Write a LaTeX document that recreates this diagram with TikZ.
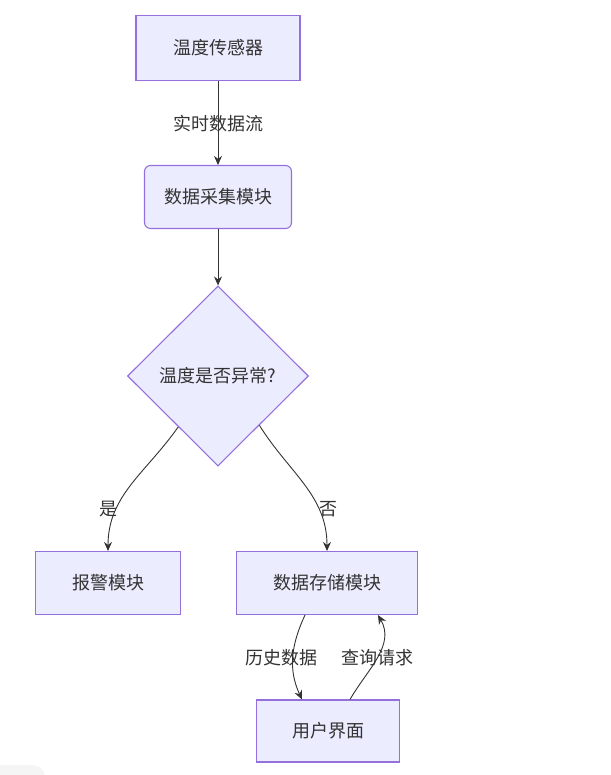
\documentclass[tikz,border=0pt]{standalone}
\usepackage{fontspec}
\setmainfont{Noto Sans CJK SC}
\usetikzlibrary{shapes.geometric,arrows.meta}
\definecolor{nodefill}{HTML}{ECECFF}
\definecolor{nodeline}{HTML}{9370DB}
\definecolor{ink}{HTML}{333333}
\begin{document}
\begin{tikzpicture}[x=1pt,y=-1pt,
  box/.style={draw=nodeline, fill=nodefill, line width=1.1pt, text=ink, font=\fontsize{18}{21}\selectfont, inner sep=0pt},
  decision/.style={box, diamond, minimum width=181pt, minimum height=180pt},
  conn/.style={draw=ink, line width=0.9pt, -{Stealth[length=9pt,width=8pt]}},
  lbl/.style={text=ink, font=\fontsize{18}{21}\selectfont, inner sep=1pt}
]
\useasboundingbox (0,0) rectangle (610,775);
\fill[white] (0,0) rectangle (610,775);
\fill[black!4, rounded corners=12pt] (-20,765) rectangle (45,800);

\node[box, minimum width=164pt, minimum height=65pt] (a) at (218,48) {温度传感器};
\node[box, rounded corners=6pt, minimum width=147pt, minimum height=63pt] (b) at (218,197) {数据采集模块};
\node[decision] (c) at (218,376) {温度是否异常?};
\node[box, minimum width=145pt, minimum height=63pt] (d) at (108,583) {报警模块};
\node[box, minimum width=181pt, minimum height=63pt] (e) at (327,583) {数据存储模块};
\node[box, minimum width=143pt, minimum height=62pt] (f) at (328,731) {用户界面};

\draw[conn] (a) -- (b);
\node[lbl] (l1) at (218,124) {实时数据流};
\draw[conn] (b) -- (c);
\draw[conn] (c.232) to[out=-125,in=90] (d.north);
\node[lbl] (l2) at (108,509) {是};
\draw[conn] (c.310) to[out=-58,in=90] (e.north);
\node[lbl] (l3) at (328,509) {否};
\draw[conn] ([xshift=-22pt]e.south) to[out=-115,in=115] ([xshift=-26pt]f.north);
\node[lbl] (l4) at (281,658) {历史数据};
\draw[conn] ([xshift=22pt]f.north) to[out=60,in=-60] ([xshift=51pt]e.south);
\node[lbl] (l5) at (377,658) {查询请求};
\end{tikzpicture}
\end{document}
